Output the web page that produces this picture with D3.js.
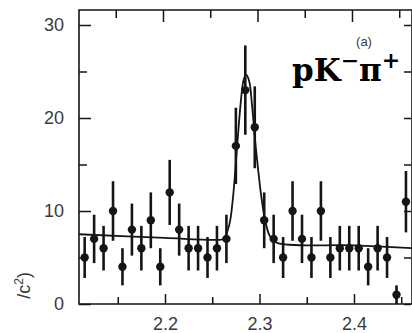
<!DOCTYPE html>
<html>
<head>
<meta charset="utf-8">
<script src="https://cdn.jsdelivr.net/npm/d3@7"></script>
<style>
  body { margin: 0; background: #fff; }
  svg { display: block; }
</style>
</head>
<body>
<div id="chart"></div>
<script>
// invariant mass bin centres (GeV/c^2)
var mass = [2.115, 2.125, 2.135, 2.145, 2.155, 2.165, 2.175, 2.185, 2.195, 2.205,
            2.215, 2.225, 2.235, 2.245, 2.255, 2.265, 2.275, 2.285, 2.295, 2.305,
            2.315, 2.325, 2.335, 2.345, 2.355, 2.365, 2.375, 2.385, 2.395, 2.405,
            2.415, 2.425, 2.435, 2.445, 2.455];
var counts = [5, 7, 6, 10, 4, 8, 6, 9, 4, 12,
              8, 6, 6, 5, 6, 7, 17, 23, 19, 9,
              7, 5, 10, 7, 5, 10, 5, 6, 6, 6,
              4, 6, 5, 1, 11];
var errors = [2.2, 2.6, 2.4, 3.2, 2.0, 2.8, 2.4, 3.0, 2.0, 3.5,
              2.8, 2.4, 2.4, 2.2, 2.4, 2.6, 4.1, 4.8, 4.4, 3.0,
              2.6, 2.2, 3.2, 2.6, 2.2, 3.2, 2.2, 2.4, 2.4, 2.4,
              2.0, 2.4, 2.2, 1.0, 3.3];

// fit curve
var fitMass = [2.109, 2.200, 2.255, 2.262, 2.268, 2.272, 2.276, 2.280, 2.283, 2.2857,
               2.289, 2.292, 2.295, 2.2985, 2.302, 2.306, 2.311, 2.318, 2.400, 2.462];
var fitCounts = [7.5, 7.1, 6.9, 7.0, 8.5, 11.5, 16.5, 21.5, 24.0, 24.7,
                 24.0, 21.5, 18.0, 14.5, 11.5, 9.0, 7.3, 6.6, 6.3, 6.0];

var yMajor = [0, 10, 20, 30],
    yMinor = [5, 15, 25],
    xMajor = [2.2, 2.3, 2.4],
    xMinor = [2.15, 2.25, 2.35, 2.45];

var width = 412, height = 333;
var ink = '#151515', textInk = '#3a3a3a';

var svg = d3.select('#chart').append('svg')
  .attr('width', width)
  .attr('height', height);

var x = d3.scaleLinear().domain([2.109, 2.4614]).range([79, 412]);
var y = d3.scaleLinear().domain([0, 30]).range([304, 25]);
var yTop = 10;

// frame
svg.append('path')
  .attr('d', 'M' + x.range()[1] + ',' + yTop + 'H' + x.range()[0] + 'V' + y(0) + 'H' + x.range()[1] + 'V' + yTop)
  .attr('fill', 'none')
  .attr('stroke', ink)
  .attr('stroke-width', 1.6);

function styleAxis(g) {
  g.select('.domain').remove();
  g.selectAll('line').attr('stroke', ink).attr('stroke-width', 1.5);
  g.selectAll('text')
    .attr('fill', textInk)
    .style('font-family', 'Liberation Sans, Arial, sans-serif')
    .style('font-size', '18px');
}

// left axis
svg.append('g').attr('transform', 'translate(' + x.range()[0] + ',0)')
  .call(d3.axisLeft(y).tickValues(yMajor).tickSize(-12).tickPadding(15).tickFormat(d3.format('d')))
  .call(styleAxis);
svg.append('g').attr('transform', 'translate(' + x.range()[0] + ',0)')
  .call(d3.axisLeft(y).tickValues(yMinor).tickSize(-8).tickFormat(''))
  .call(styleAxis);

// right axis (ticks only)
svg.append('g').attr('transform', 'translate(' + (x.range()[1] - 1) + ',0)')
  .call(d3.axisRight(y).tickValues(yMajor.concat(yMinor)).tickSize(-7).tickFormat(''))
  .call(styleAxis);

// bottom axis
svg.append('g').attr('transform', 'translate(0,' + y(0) + ')')
  .call(d3.axisBottom(x).tickValues(xMajor).tickSize(-10).tickPadding(13).tickFormat(d3.format('.1f')))
  .call(styleAxis);
svg.append('g').attr('transform', 'translate(0,' + y(0) + ')')
  .call(d3.axisBottom(x).tickValues(xMinor).tickSize(-7).tickFormat(''))
  .call(styleAxis);

// top axis
svg.append('g').attr('transform', 'translate(-2,' + yTop + ')')
  .call(d3.axisTop(x).tickValues(xMajor).tickSize(-12).tickFormat(''))
  .call(styleAxis);
svg.append('g').attr('transform', 'translate(-2,' + yTop + ')')
  .call(d3.axisTop(x).tickValues(xMinor).tickSize(-8).tickFormat(''))
  .call(styleAxis);

// fit line
var line = d3.line()
  .x(function(d, i) { return x(fitMass[i]); })
  .y(function(d) { return y(d); })
  .curve(d3.curveCatmullRom.alpha(0.5));

svg.append('path')
  .datum(fitCounts)
  .attr('d', line)
  .attr('fill', 'none')
  .attr('stroke', ink)
  .attr('stroke-width', 1.8);

// data points with error bars
var pts = svg.append('g').selectAll('g')
  .data(counts)
  .enter()
  .append('g');

pts.append('line')
  .attr('x1', function(d, i) { return x(mass[i]); })
  .attr('x2', function(d, i) { return x(mass[i]); })
  .attr('y1', function(d, i) { return y(Math.max(0, d - errors[i])); })
  .attr('y2', function(d, i) { return y(d + errors[i]); })
  .attr('stroke', ink)
  .attr('stroke-width', 2.6);

pts.append('circle')
  .attr('cx', function(d, i) { return x(mass[i]); })
  .attr('cy', function(d) { return y(d); })
  .attr('r', 4.2)
  .attr('fill', ink);

// y axis title (only its tail shows in the crop)
svg.append('text')
  .attr('transform', 'translate(30,272) rotate(-90)')
  .attr('text-anchor', 'end')
  .attr('fill', textInk)
  .style('font-family', 'Liberation Sans, Arial, sans-serif')
  .style('font-size', '18px')
  .html('/c<tspan dy="-7" font-size="12">2</tspan><tspan dy="7">)</tspan>');

// panel label
svg.append('text')
  .attr('x', 364).attr('y', 46)
  .attr('text-anchor', 'middle')
  .attr('fill', textInk)
  .style('font-family', 'Liberation Sans, Arial, sans-serif')
  .style('font-size', '13px')
  .text('(a)');

svg.append('text')
  .attr('x', 292).attr('y', 81)
  .attr('fill', '#000')
  .style('font-family', 'DejaVu Serif, serif')
  .style('font-weight', 'bold')
  .style('font-size', '31px')
  .html('pK<tspan dy="-13" font-size="22">\u2212</tspan><tspan dy="13">\u03c0</tspan><tspan dy="-13" font-size="22">+</tspan>');
</script>
</body>
</html>
